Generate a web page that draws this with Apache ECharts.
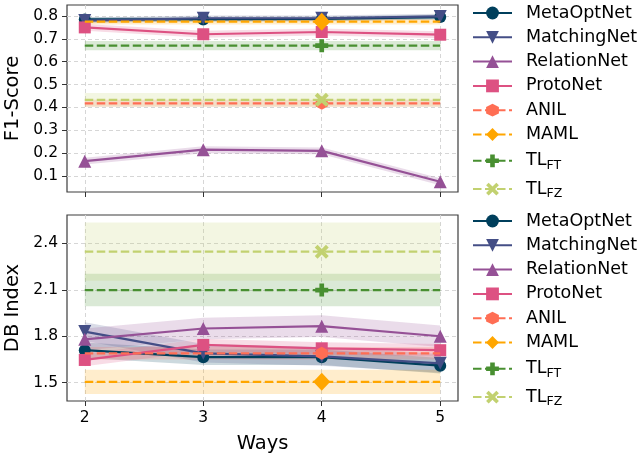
<!DOCTYPE html>
<html>
<head>
<meta charset="utf-8">
<script src="https://cdn.jsdelivr.net/npm/echarts@6/dist/echarts.min.js"></script>
<style>
  html, body { margin: 0; padding: 0; background: #ffffff; }
  #chart { width: 639px; height: 457px; }
</style>
</head>
<body>
<div id="chart"></div>
<script>
// x positions (number of ways)
const ways = [2, 3, 4, 5];
const methods = ['MetaOptNet', 'MatchingNet', 'RelationNet', 'ProtoNet', 'ANIL', 'MAML', 'TL_FT', 'TL_FZ'];

// F1-score: mean per way
const f1MetaOptNet  = [0.785, 0.785, 0.787, 0.795];
const f1MatchingNet = [0.780, 0.790, 0.790, 0.798];
const f1RelationNet = [0.165, 0.215, 0.210, 0.075];
const f1ProtoNet    = [0.750, 0.720, 0.730, 0.718];
const f1ANIL        = [0.418, 0.418, 0.418, 0.418];
const f1MAML        = [0.775, 0.775, 0.775, 0.775];
const f1TLFT        = [0.670, 0.670, 0.670, 0.670];
const f1TLFZ        = [0.433, 0.433, 0.433, 0.433];
// F1-score: spread per method
const f1Spread = [0.010, 0.012, 0.015, 0.015, 0.015, 0.012, 0.020, 0.030];

// DB index: mean per way
const dbMetaOptNet  = [1.710, 1.665, 1.665, 1.610];
const dbMatchingNet = [1.830, 1.690, 1.670, 1.625];
const dbRelationNet = [1.780, 1.850, 1.865, 1.800];
const dbProtoNet    = [1.647, 1.744, 1.722, 1.710];
const dbANIL        = [1.690, 1.690, 1.690, 1.690];
const dbMAML        = [1.506, 1.506, 1.506, 1.506];
const dbTLFT        = [2.098, 2.098, 2.098, 2.098];
const dbTLFZ        = [2.346, 2.346, 2.346, 2.346];
// DB index: spread per method
const dbSpread = [0.050, 0.060, 0.070, 0.040, 0.040, 0.078, 0.105, 0.188];

// tick labels
const f1Ticks = [0.1, 0.2, 0.3, 0.4, 0.5, 0.6, 0.7, 0.8];
const dbTicks = [1.5, 1.8, 2.1, 2.4];

const f1Means = [f1MetaOptNet, f1MatchingNet, f1RelationNet, f1ProtoNet, f1ANIL, f1MAML, f1TLFT, f1TLFZ];
const dbMeans = [dbMetaOptNet, dbMatchingNet, dbRelationNet, dbProtoNet, dbANIL, dbMAML, dbTLFT, dbTLFZ];

const colors = ['#003f5c', '#444e86', '#955196', '#dd5182', '#ff6e54', '#ffa600', '#488f31', '#c2d170'];
const HEX = 'path://M0,-1 L0.866,-0.5 L0.866,0.5 L0,1 L-0.866,0.5 L-0.866,-0.5 Z';
const PLUS = 'path://M-1,-0.36 L-0.36,-0.36 L-0.36,-1 L0.36,-1 L0.36,-0.36 L1,-0.36 L1,0.36 L0.36,0.36 L0.36,1 L-0.36,1 L-0.36,0.36 L-1,0.36 Z';
const XMARK = 'path://M-1,-0.6 L-0.6,-1 L0,-0.4 L0.6,-1 L1,-0.6 L0.4,0 L1,0.6 L0.6,1 L0,0.4 L-0.6,1 L-1,0.6 L-0.4,0 Z';
const TRI_DOWN = 'path://M-1,-1 L1,-1 L0,1 Z';
const symbols = ['circle', TRI_DOWN, 'triangle', 'rect', HEX, 'diamond', PLUS, XMARK];
const symbolSizes = [12, 13, 13, 12, [12, 13], [17, 18], 13, 14];
const dashed = [false, false, false, false, true, true, true, true];

const FONT = 'DejaVu Sans';

function rgba(hex, a) {
  const n = parseInt(hex.slice(1), 16);
  return 'rgba(' + (n >> 16) + ',' + ((n >> 8) & 255) + ',' + (n & 255) + ',' + a + ')';
}

function buildSeries(g, means, spread) {
  const out = [];
  methods.forEach((m, i) => {
    const mean = means[i];
    const s = spread[i];
    // shaded band: mean ± spread, drawn as one polygon in data coordinates
    out.push({
      type: 'custom', xAxisIndex: g, yAxisIndex: g, silent: true, z: 2 + i * 0.01,
      data: [[ways[0], mean[0]]],
      clip: true,
      renderItem: (params, api) => {
        const upper = ways.map((x, k) => api.coord([x, mean[k] + s]));
        const lower = ways.map((x, k) => api.coord([x, mean[k] - s])).reverse();
        return {
          type: 'polygon',
          shape: { points: upper.concat(lower) },
          style: { fill: rgba(colors[i], 0.2), stroke: null }
        };
      }
    });
    // mean line; constant baselines only mark the 4-way point
    out.push({
      type: 'line', name: m, xAxisIndex: g, yAxisIndex: g,
      data: ways.map((x, k) => dashed[i] && x !== 4
        ? { value: [x, mean[k]], symbol: 'none' }
        : { value: [x, mean[k]] }),
      symbol: symbols[i], symbolSize: symbolSizes[i], showSymbol: true,
      itemStyle: { color: colors[i], opacity: 1 },
      lineStyle: { color: colors[i], width: 2.2, type: dashed[i] ? [8.5, 3.5] : 'solid' },
      z: 3 + i * 0.01
    });
  });
  return out;
}

function legendFor(top) {
  return {
    orient: 'vertical', left: 472, top: top, padding: 0,
    itemWidth: 39, itemHeight: 16, itemGap: 6.3,
    data: methods,
    textStyle: {
      fontFamily: FONT, fontSize: 17.5, color: '#000', padding: [0, 0, 0, 9],
      rich: {
        m: { fontFamily: FONT, fontSize: 17.5, color: '#000', lineHeight: 18 },
        s: { fontFamily: FONT, fontSize: 12.5, color: '#000', lineHeight: 6, padding: [9, 0, 0, 0] }
      }
    },
    formatter: (name) => {
      if (name === 'TL_FT') return '{m|TL}{s|FT}';
      if (name === 'TL_FZ') return '{m|TL}{s|FZ}';
      return '{m|' + name + '}';
    }
  };
}

const splitLine = { show: true, lineStyle: { color: '#d6d6d6', width: 1, type: [4, 3] } };
const tick = { show: true, length: 5, inside: false, lineStyle: { color: '#333', width: 1 } };

function xAxisFor(g, showLabels) {
  return {
    type: 'value', gridIndex: g, min: 1.85, max: 5.15,
    axisLine: { show: false },
    axisTick: Object.assign({ customValues: ways }, tick),
    axisLabel: { show: showLabels, customValues: ways, margin: 9, fontFamily: FONT, fontSize: 15.5, color: '#000' },
    splitLine: splitLine,
    name: showLabels ? 'Ways' : '',
    nameLocation: 'middle', nameGap: 33,
    nameTextStyle: { fontFamily: FONT, fontSize: 19.5, color: '#000' }
  };
}

function yAxisFor(g, min, max, ticks, name) {
  return {
    type: 'value', gridIndex: g, min: min, max: max,
    axisLine: { show: false },
    axisTick: Object.assign({ customValues: ticks }, tick),
    axisLabel: { customValues: ticks, margin: 9, fontFamily: FONT, fontSize: 15.5, color: '#000',
      formatter: (v) => v.toFixed(1) },
    splitLine: splitLine,
    name: name, nameLocation: 'middle', nameGap: 35,
    nameTextStyle: { fontFamily: FONT, fontSize: 19.5, color: '#000' }
  };
}

const gridBase = { left: 67, width: 391, show: true, borderColor: '#3c3c3c', borderWidth: 1.2,
  backgroundColor: 'transparent', outerBoundsMode: 'none', containLabel: false };

const chart = echarts.init(document.getElementById('chart'), null, { renderer: 'canvas' });
chart.setOption({
  animation: false,
  backgroundColor: '#ffffff',
  grid: [
    Object.assign({ top: 5, height: 187 }, gridBase),
    Object.assign({ top: 215, height: 186 }, gridBase)
  ],
  xAxis: [xAxisFor(0, false), xAxisFor(1, true)],
  yAxis: [
    yAxisFor(0, 0.03, 0.848, f1Ticks, 'F1-Score'),
    yAxisFor(1, 1.382, 2.583, dbTicks, 'DB Index')
  ],
  legend: [legendFor(4), legendFor(212)],
  series: buildSeries(0, f1Means, f1Spread).concat(buildSeries(1, dbMeans, dbSpread))
});
</script>
</body>
</html>
